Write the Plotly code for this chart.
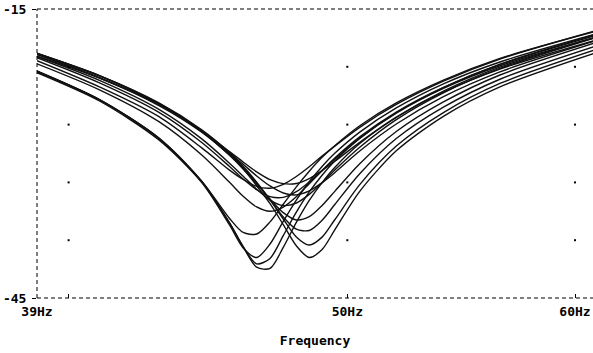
import plotly.graph_objects as go
import math

# Frequency sample points (Hz) shared by all Monte Carlo runs
freq_hz = [39, 41, 43, 44.5, 45.5, 46, 46.5, 47, 47.5, 48, 48.5, 49, 49.5, 50.5, 52, 54, 56.5, 61]

# Gain (dB) of each run
run_01 = [-21.62, -24.55, -28.60, -33.00, -37.20, -39.70, -41.80, -41.93, -39.75, -37.15, -34.87, -33.02, -31.45, -28.97, -26.26, -23.63, -21.24, -18.24]
run_02 = [-21.47, -24.41, -28.45, -32.90, -37.20, -39.66, -41.46, -40.89, -38.53, -36.09, -33.99, -32.25, -30.78, -28.43, -25.80, -23.23, -20.89, -17.94]
run_03 = [-21.49, -24.41, -28.41, -32.99, -37.42, -39.80, -40.80, -39.40, -37.05, -34.84, -32.93, -31.34, -29.98, -27.78, -25.27, -22.77, -20.50, -17.60]
run_04 = [-21.43, -24.42, -28.40, -32.88, -36.74, -38.20, -38.36, -37.10, -35.27, -33.46, -31.84, -30.40, -29.19, -27.12, -24.75, -22.38, -20.13, -17.32]
run_05 = [-19.90, -22.17, -25.02, -27.79, -30.16, -31.60, -33.35, -35.21, -37.38, -39.58, -40.80, -39.97, -37.93, -33.93, -29.72, -26.14, -23.09, -19.56]
run_06 = [-19.64, -21.92, -24.75, -27.54, -29.91, -31.32, -32.97, -34.79, -36.80, -38.66, -39.50, -38.68, -36.88, -33.23, -29.23, -25.75, -22.73, -19.22]
run_07 = [-19.62, -21.91, -24.81, -27.69, -30.04, -31.48, -33.09, -34.83, -36.58, -37.85, -37.99, -36.93, -35.30, -32.10, -28.45, -25.19, -22.29, -18.86]
run_08 = [-19.59, -21.95, -24.85, -27.73, -30.19, -31.61, -33.16, -34.72, -36.14, -36.90, -36.56, -35.40, -33.93, -31.06, -27.72, -24.65, -21.85, -18.50]
run_09 = [-20.69, -23.39, -26.70, -30.16, -32.99, -34.44, -35.55, -36.00, -35.56, -34.48, -33.13, -31.78, -30.48, -28.28, -25.70, -23.14, -20.77, -17.75]
run_10 = [-19.92, -22.40, -25.41, -28.48, -31.01, -32.36, -33.71, -34.83, -35.40, -35.14, -34.24, -33.03, -31.72, -29.35, -26.48, -23.70, -21.17, -17.97]
run_11 = [-20.06, -22.67, -25.73, -28.86, -31.35, -32.65, -33.76, -34.47, -34.55, -33.96, -32.95, -31.76, -30.58, -28.40, -25.77, -23.16, -20.73, -17.65]
run_12 = [-19.73, -22.12, -24.90, -27.69, -29.94, -31.12, -32.33, -33.37, -34.10, -34.30, -33.88, -33.03, -31.99, -29.74, -26.94, -24.10, -21.52, -18.29]
run_13 = [-20.37, -23.09, -26.18, -29.42, -31.73, -32.70, -33.41, -33.60, -33.20, -32.39, -31.38, -30.27, -29.23, -27.28, -24.91, -22.49, -20.20, -17.26]
run_14 = [-19.69, -22.14, -24.90, -27.65, -29.80, -30.89, -31.91, -32.72, -33.13, -33.11, -32.60, -31.77, -30.81, -28.84, -26.23, -23.53, -21.04, -17.92]

runs = [run_01, run_02, run_03, run_04, run_05, run_06, run_07,
        run_08, run_09, run_10, run_11, run_12, run_13, run_14]

# Axes
x_range_hz = [39, 60.87]
y_range_db = [-45, -15]
x_tick_vals = [39, 40, 50, 60]
x_tick_text = ["39Hz", "", "50Hz", "60Hz"]
y_tick_vals = [-45, -15]
y_tick_text = ["-45", "-15"]
grid_x_hz = [40, 50, 60]
grid_y_db = [-39, -33, -27, -21]
x_title = "Frequency"

FONT = dict(family="DejaVu Sans Mono", size=13, color="black", weight="bold")

fig = go.Figure()

for r in runs:
    fig.add_trace(go.Scatter(
        x=freq_hz, y=r, mode="lines",
        line=dict(color="#111111", width=1.4, shape="spline", smoothing=0.8),
        showlegend=False, hoverinfo="skip"))

# grid dots at tick intersections
gx = [x for x in grid_x_hz for _ in grid_y_db]
gy = [y for _ in grid_x_hz for y in grid_y_db]
fig.add_trace(go.Scatter(
    x=gx, y=gy, mode="markers",
    marker=dict(color="black", size=2, symbol="square"),
    showlegend=False, hoverinfo="skip"))

dash = "4px,3px"
border = dict(color="black", width=1, dash=dash)
fig.add_shape(type="line", xref="paper", yref="paper", x0=0, x1=1, y0=1, y1=1, line=border)
fig.add_shape(type="line", xref="paper", yref="paper", x0=0, x1=1, y0=0, y1=0, line=border)
fig.add_shape(type="line", xref="paper", yref="paper", x0=0, x1=0, y0=0, y1=1, line=border)

fig.update_xaxes(
    type="log", automargin=False,
    range=[math.log10(x_range_hz[0]), math.log10(x_range_hz[1])],
    tickmode="array", tickvals=x_tick_vals, ticktext=x_tick_text,
    ticks="inside", ticklen=4, tickcolor="black", tickwidth=1,
    ticklabelstandoff=4,
    showgrid=False, zeroline=False, showline=False,
    tickfont=FONT,
    title=dict(text=x_title, font=FONT, standoff=17),
)
fig.update_yaxes(
    automargin=False,
    range=y_range_db,
    tickmode="array", tickvals=y_tick_vals, ticktext=y_tick_text,
    ticks="outside", ticklen=4, tickcolor="black", tickwidth=1,
    ticklabelstandoff=3,
    showgrid=False, zeroline=False, showline=False,
    tickfont=FONT,
)

fig.update_layout(
    width=593, height=353,
    margin=dict(l=37, r=0, t=9, b=55),
    paper_bgcolor="white", plot_bgcolor="white",
    showlegend=False,
)

fig.write_html(
    "out.html",
    config={"displayModeBar": False, "staticPlot": True},
    post_script="document.body.style.margin='0';document.body.style.overflow='hidden';",
)
